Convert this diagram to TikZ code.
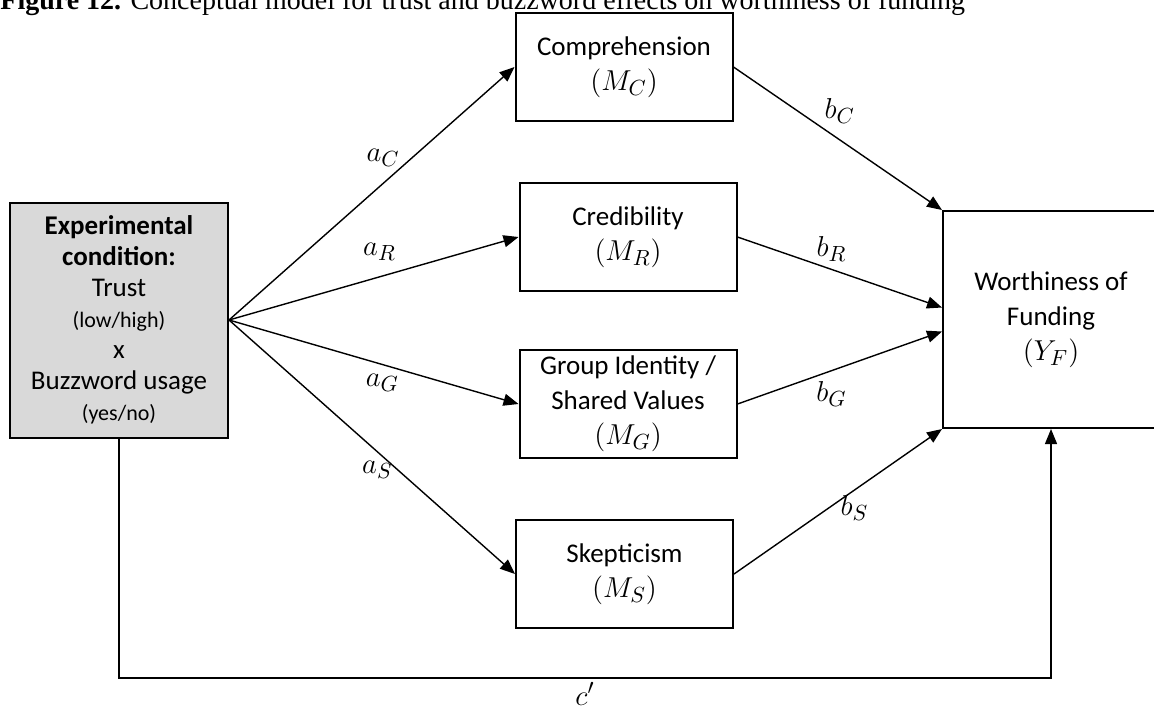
\documentclass[tikz,border=0pt]{standalone}
\usepackage{fontspec}
\setmainfont{Carlito}
\newfontfamily\captionfont{Liberation Serif}
\usetikzlibrary{arrows.meta, positioning}

\definecolor{condgray}{HTML}{D9D9D9}
\newcommand{\smalltext}[1]{{\fontsize{11}{15.5}\selectfont #1}}
\newcommand{\mvar}[1]{{\fontsize{15}{17.5}\selectfont $#1$}}

\begin{document}
\begin{tikzpicture}[
    x = 0.5pt,
    y = -0.5pt,
    > = {Triangle[length=7.5pt, width=6pt]},
    box/.style = {draw, line width=1pt, minimum width=108.5pt, minimum height=54pt,
                  inner sep=0pt, align=center, font=\fontsize{13.5}{17.5}\selectfont},
    effect/.style = {->, line width=0.7pt},
    coef/.style = {inner sep=0pt, font=\fontsize{15}{16}\selectfont}
]
\useasboundingbox (0,0) rectangle (1154,708);

% caption (cut at the top edge)
\node[anchor=base west, inner sep=0pt, font=\captionfont\fontsize{14}{16}\selectfont] (caption) at (0,9)
    {\textbf{Figure 12.} Conceptual model for trust and buzzword effects on worthiness of funding};

% 1. Predictor, mediators and outcome
\node[box, fill=condgray, minimum width=109pt, minimum height=117.5pt,
      font=\fontsize{13.5}{15.5}\selectfont] (cond) at (119,320)
    {\textbf{Experimental}\\ \textbf{condition:}\\ Trust\\ \smalltext{(low/high)}\\ x\\ Buzzword usage\\ \smalltext{(yes/no)}};

\node[box] (comp)  at (624,67)    {Comprehension\\ \mvar{(M_C)}};
\node[box] (cred)  at (628,237)   {Credibility\\ \mvar{(M_R)}};
\node[box] (group) at (628,404)   {Group Identity /\\ Shared Values\\ \mvar{(M_G)}};
\node[box] (skep)  at (624.5,574) {Skepticism\\ \mvar{(M_S)}};

\node[box, minimum width=108pt, minimum height=108.5pt] (worth) at (1051,319.5)
    {Worthiness of\\ Funding\\ \mvar{(Y_F)}};

% 2. a paths
\draw[effect] (cond.east) -- (comp.west)  node[coef, pos=0.54, yshift=13pt] {$a_C$};
\draw[effect] (cond.east) -- (cred.west)  node[coef, pos=0.52, yshift=12.5pt] {$a_R$};
\draw[effect] (cond.east) -- (group.west) node[coef, pos=0.53, yshift=-9pt] {$a_G$};
\draw[effect] (cond.east) -- (skep.west)  node[coef, pos=0.575, xshift=-8pt, yshift=-2pt] {$a_S$};

% 3. b paths
\draw[effect] (comp.east)  -- (worth.north west)          node[coef, pos=0.51, yshift=14.5pt] {$b_C$};
\draw[effect] (cred.east)  -- ([yshift=6pt]worth.west)    node[coef, pos=0.46, yshift=10pt] {$b_R$};
\draw[effect] (group.east) -- ([yshift=-6pt]worth.west)   node[coef, pos=0.46, yshift=-11.5pt] {$b_G$};
\draw[effect] (skep.east)  -- (worth.south west)          node[coef, pos=0.55, xshift=3pt, yshift=-7pt] {$b_S$};

% 4. direct path
\draw[effect] (cond.south) -- (cond.south |- 0,678) -| (worth.south)
    node[coef, pos=0.25, below=2pt] {$c'$};

\end{tikzpicture}
\end{document}
